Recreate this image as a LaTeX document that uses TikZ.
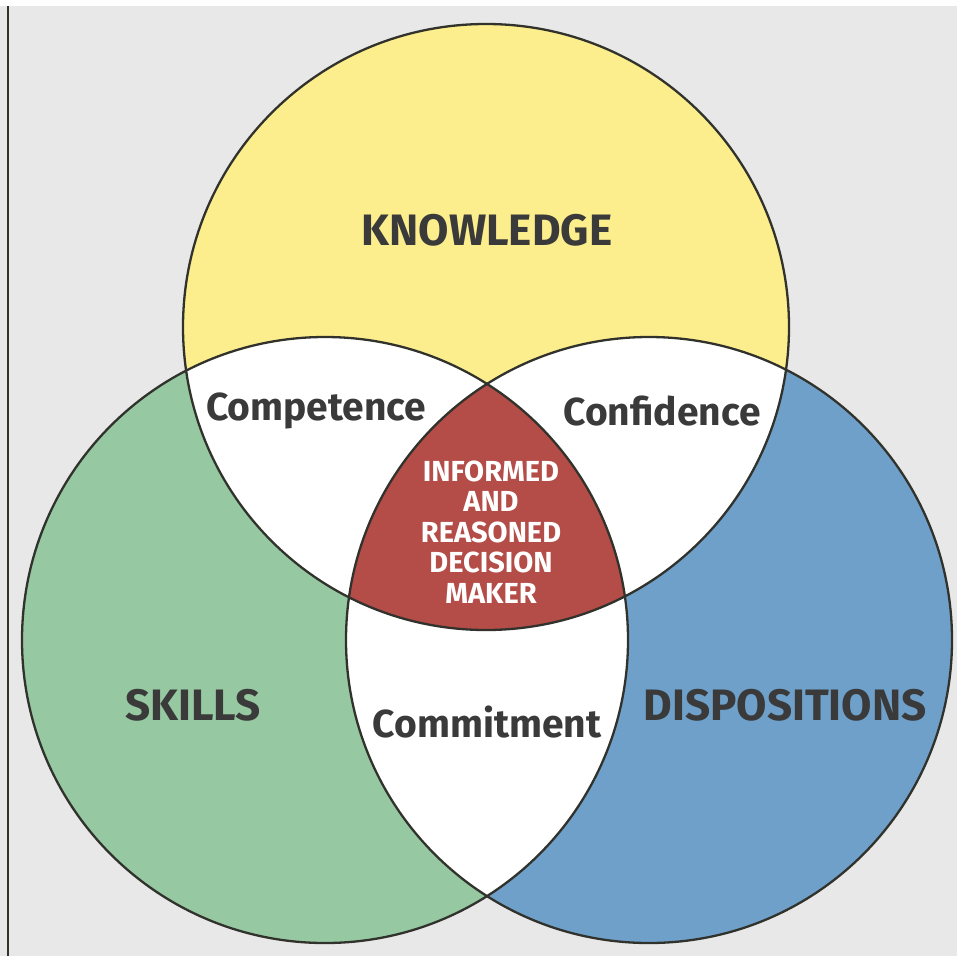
\documentclass[tikz,border=0pt]{standalone}
\usepackage{fontspec}
\setmainfont{Fira Sans}
\definecolor{bgc}{RGB}{232,232,232}
\definecolor{kyel}{RGB}{252,238,140}
\definecolor{sgrn}{RGB}{150,200,162}
\definecolor{dblu}{RGB}{110,160,202}
\definecolor{cred}{RGB}{180,76,72}
\definecolor{txt}{RGB}{58,58,58}
\definecolor{edge}{RGB}{50,50,45}
\tikzset{
  outline/.style={draw=edge, line width=2.3pt},
  bigtxt/.style={font=\fontsize{44}{44}\selectfont\bfseries, text=txt, inner sep=0pt},
  midtxt/.style={font=\fontsize{39}{39}\selectfont\bfseries, text=txt, inner sep=0pt},
  redtxt/.style={font=\fontsize{29}{30.5}\selectfont\bfseries, text=white, align=center, inner sep=0pt}
}
\begin{document}
\begin{tikzpicture}[x=1pt,y=-1pt]
\useasboundingbox (0,0) rectangle (957,956);
\fill[white] (0,0) rectangle (957,956);
\fill[bgc] (0,6) rectangle (957,956);
\draw[edge, line width=2.6pt] (8,6) -- (8,956);
% circles
\coordinate (K) at (486,327);
\coordinate (S) at (325,640);
\coordinate (D) at (649,640);
\def\R{303}
\fill[kyel] (K) circle (\R);
\fill[sgrn] (S) circle (\R);
\fill[dblu] (D) circle (\R);
\begin{scope}
  \clip (K) circle (\R);
  \fill[white] (S) circle (\R);
  \fill[white] (D) circle (\R);
\end{scope}
\begin{scope}
  \clip (S) circle (\R);
  \fill[white] (D) circle (\R);
\end{scope}
\begin{scope}
  \clip (K) circle (\R);
  \clip (S) circle (\R);
  \fill[cred] (D) circle (\R);
\end{scope}
\draw[outline] (K) circle (\R);
\draw[outline] (S) circle (\R);
\draw[outline] (D) circle (\R);
% labels
\node[bigtxt] (know) at (487,230) {KNOWLEDGE};
\node[bigtxt] (skil) at (193,705) {SKILLS};
\node[bigtxt] (disp) at (785,705) {DISPOSITIONS};
\node[midtxt] (comp) at (316,411) {Competence};
\node[midtxt] (conf) at (662,411) {Confidence};
\node[midtxt] (comm) at (487,722) {Commitment};
\node[redtxt] (core) at (491,532) {INFORMED\\AND\\REASONED\\DECISION\\MAKER};
\end{tikzpicture}
\end{document}
